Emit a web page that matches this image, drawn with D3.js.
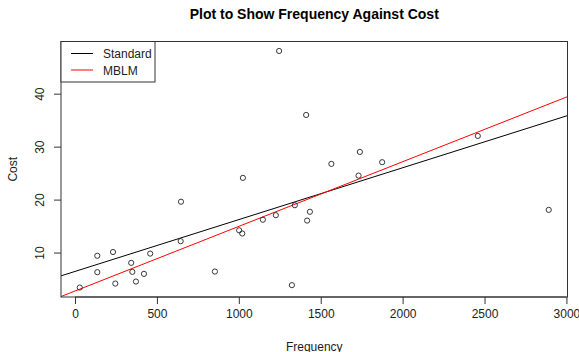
<!DOCTYPE html>
<html>
<head>
<meta charset="utf-8">
<script src="https://cdn.jsdelivr.net/npm/d3@7"></script>
<style>
  body { margin: 0; background: #fff; }
  svg { display: block; font-family: "Liberation Sans", Arial, sans-serif; }
</style>
</head>
<body>
<svg id="chart" width="579" height="352"></svg>
<script>
// frequency / cost pairs
const frequency = [29, 136, 136, 232, 246, 343, 350, 372, 421, 459,
  645, 647, 854, 1002, 1021, 1025, 1147, 1226, 1324, 1342,
  1417, 1434, 1565, 1246, 1411, 1739, 1875, 1731, 2459, 2892];
const cost = [3.4, 9.4, 6.3, 10.1, 4.15, 8.06, 6.36, 4.53, 5.98, 9.81,
  12.15, 19.6, 6.42, 14.2, 13.6, 24.1, 16.2, 17.06, 3.85, 18.94,
  16.04, 17.7, 26.74, 48.06, 35.98, 29.0, 27.06, 24.53, 32.02, 18.06];

// fitted lines (intercept, slope)
const fitNames = ['Standard', 'MBLM'];
const fitColors = ['#000000', '#ff0000'];
const fitIntercepts = [6.44, 2.74];
const fitSlopes = [0.009785, 0.012205];

const xTicks = [0, 500, 1000, 1500, 2000, 2500, 3000];
const yTicks = [10, 20, 30, 40];

const svg = d3.select('#chart');
const plotLeft = 61, plotRight = 567.5, plotTop = 41.5, plotBottom = 297;

// R style 4% padding around data range
function padded(vals) {
  const ext = d3.extent(vals);
  const p = (ext[1] - ext[0]) * 0.04;
  return [ext[0] - p, ext[1] + p];
}

const x = d3.scaleLinear().domain(padded(frequency)).range([plotLeft, plotRight]);
const y = d3.scaleLinear().domain(padded(cost)).range([plotBottom, plotTop]);

svg.append('defs').append('clipPath').attr('id', 'clip')
  .append('rect')
  .attr('x', plotLeft).attr('y', plotTop)
  .attr('width', plotRight - plotLeft).attr('height', plotBottom - plotTop);

// title
svg.append('text')
  .attr('x', (plotLeft + plotRight) / 2)
  .attr('y', 19)
  .attr('text-anchor', 'middle')
  .style('font-weight', 'bold')
  .style('font-size', '14px')
  .text('Plot to Show Frequency Against Cost');

// fitted lines
const plot = svg.append('g').attr('clip-path', 'url(#clip)');
const xd = x.domain();
fitNames.forEach(function (name, i) {
  plot.append('line')
    .attr('x1', x(xd[0]))
    .attr('y1', y(fitIntercepts[i] + fitSlopes[i] * xd[0]))
    .attr('x2', x(xd[1]))
    .attr('y2', y(fitIntercepts[i] + fitSlopes[i] * xd[1]))
    .attr('stroke', fitColors[i])
    .attr('stroke-width', 1);
});

// points
svg.append('g').selectAll('circle')
  .data(frequency)
  .enter()
  .append('circle')
  .attr('cx', function (d) { return x(d); })
  .attr('cy', function (d, i) { return y(cost[i]); })
  .attr('r', 2.6)
  .attr('fill', 'none')
  .attr('stroke', '#222')
  .attr('stroke-width', 0.9);

// axes
const xAxis = svg.append('g')
  .attr('transform', 'translate(0,' + plotBottom + ')')
  .call(d3.axisBottom(x).tickValues(xTicks).tickFormat(d3.format('d')).tickSize(7).tickPadding(5));
xAxis.selectAll('text').style('font-size', '12px').attr('fill', '#222');

const yAxis = svg.append('g')
  .attr('transform', 'translate(' + plotLeft + ',0)')
  .call(d3.axisLeft(y).tickValues(yTicks).tickSize(7).tickPadding(0));
yAxis.selectAll('text')
  .style('font-size', '12px')
  .attr('fill', '#222')
  .attr('text-anchor', 'middle')
  .attr('transform', 'translate(-21.5,0) rotate(-90)')
  .attr('x', 0).attr('y', 0).attr('dy', '0.35em');
svg.selectAll('.domain').remove();
svg.selectAll('.tick line').attr('stroke', '#333');

// axis line only across the tick range, R style
svg.append('line')
  .attr('x1', x(xTicks[0])).attr('x2', x(xTicks[xTicks.length - 1]))
  .attr('y1', plotBottom).attr('y2', plotBottom).attr('stroke', '#333');

// box
svg.append('rect')
  .attr('x', plotLeft).attr('y', plotTop)
  .attr('width', plotRight - plotLeft).attr('height', plotBottom - plotTop)
  .attr('fill', 'none').attr('stroke', '#333');

// axis titles
svg.append('text')
  .attr('x', (plotLeft + plotRight) / 2).attr('y', 350.5)
  .attr('text-anchor', 'middle')
  .style('font-size', '12px').attr('fill', '#222')
  .text('Frequency');

svg.append('text')
  .attr('transform', 'translate(17,' + ((plotTop + plotBottom) / 2) + ') rotate(-90)')
  .attr('text-anchor', 'middle')
  .style('font-size', '12px').attr('fill', '#222')
  .text('Cost');

// legend
const legend = svg.append('g');
legend.append('rect')
  .attr('x', plotLeft).attr('y', plotTop)
  .attr('width', 94).attr('height', 40.5)
  .attr('fill', '#fff').attr('stroke', '#333');

const legendItems = legend.selectAll('.legend')
  .data(fitNames)
  .enter()
  .append('g')
  .attr('class', 'legend')
  .attr('transform', function (d, i) {
    return 'translate(' + plotLeft + ',' + (plotTop + 12 + i * 16.5) + ')';
  });

legendItems.append('line')
  .attr('x1', 10).attr('x2', 32)
  .attr('y1', 0).attr('y2', 0)
  .attr('stroke', function (d, i) { return fitColors[i]; });

legendItems.append('text')
  .attr('x', 42).attr('y', 4.5)
  .style('font-size', '12px').attr('fill', '#222')
  .text(function (d) { return d; });
</script>
</body>
</html>
